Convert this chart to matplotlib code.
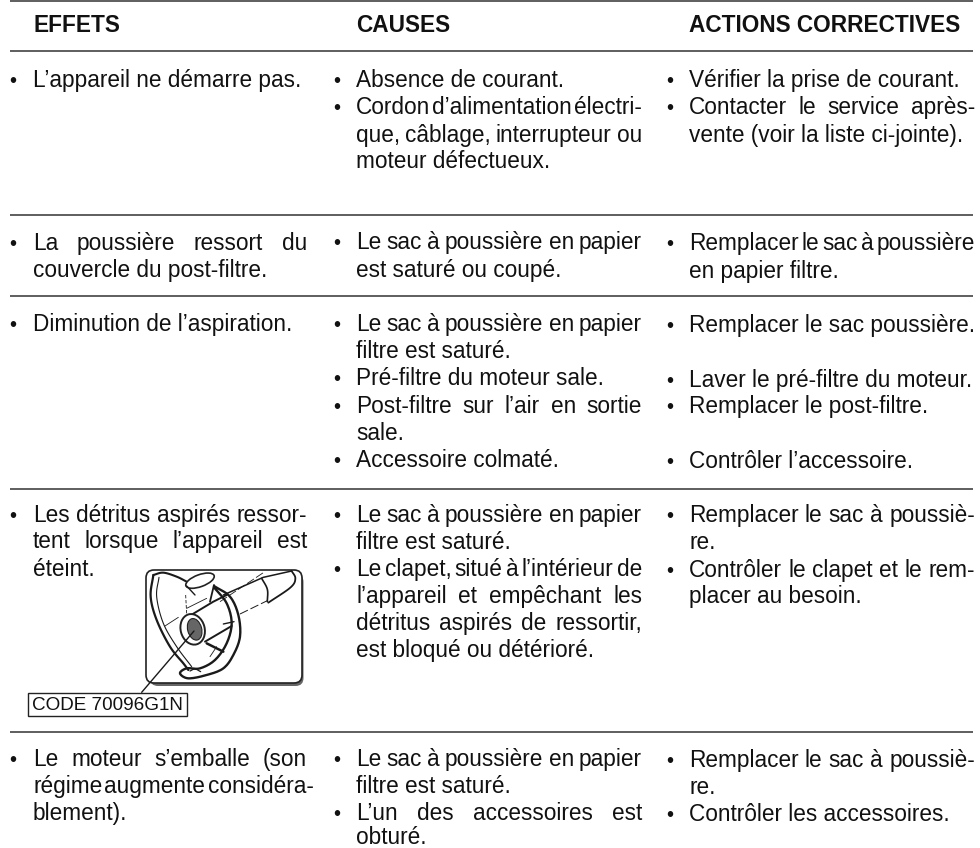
import matplotlib
matplotlib.use("Agg")
import matplotlib.pyplot as plt
import numpy as np
from matplotlib.patches import FancyBboxPatch, Ellipse, Rectangle, Polygon

plt.rcParams['font.family'] = ['Liberation Sans', 'DejaVu Sans']

FS = 16.3
INK = '#111111'

# column geometry: bullet x, text x, right edge
COLS = [(12.5, 33, 307), (337, 356, 642), (670, 689, 975)]
headers = ["EFFETS", "CAUSES", "ACTIONS CORRECTIVES"]
rules_y = [0.5, 51, 215, 296, 489, 732]

# (baseline, text, bullet, justified)
col_effets = [
    (87, "L’appareil ne démarre pas.", True, False),
    (250, "La poussière ressort du", True, True),
    (277, "couvercle du post-filtre.", False, False),
    (331, "Diminution de l’aspiration.", True, False),
    (522, "Les détritus aspirés ressor-", True, True),
    (548, "tent lorsque l’appareil est", False, True),
    (576, "éteint.", False, False),
    (766, "Le moteur s’emballe (son", True, True),
    (793, "régime augmente considéra-", False, True),
    (820, "blement).", False, False),
]
col_causes = [
    (87, "Absence de courant.", True, False),
    (114, "Cordon d’alimentation électri-", True, True),
    (142, "que, câblage, interrupteur ou", False, True),
    (168, "moteur défectueux.", False, False),
    (249, "Le sac à poussière en papier", True, True),
    (277, "est saturé ou coupé.", False, False),
    (331, "Le sac à poussière en papier", True, True),
    (358, "filtre est saturé.", False, False),
    (385, "Pré-filtre du moteur sale.", True, False),
    (413, "Post-filtre sur l’air en sortie", True, True),
    (440, "sale.", False, False),
    (467, "Accessoire colmaté.", True, False),
    (522, "Le sac à poussière en papier", True, True),
    (549, "filtre est saturé.", False, False),
    (576, "Le clapet, situé à l’intérieur de", True, True),
    (603, "l’appareil et empêchant les", False, True),
    (630, "détritus aspirés de ressortir,", False, True),
    (657, "est bloqué ou détérioré.", False, False),
    (766, "Le sac à poussière en papier", True, True),
    (793, "filtre est saturé.", False, False),
    (820, "L’un des accessoires est", True, True),
    (844, "obturé.", False, False),
]
col_actions = [
    (87, "Vérifier la prise de courant.", True, False),
    (114, "Contacter le service après-", True, True),
    (142, "vente (voir la liste ci-jointe).", False, False),
    (250, "Remplacer le sac à poussière", True, True),
    (278, "en papier filtre.", False, False),
    (332, "Remplacer le sac poussière.", True, False),
    (387, "Laver le pré-filtre du moteur.", True, False),
    (413, "Remplacer le post-filtre.", True, False),
    (468, "Contrôler l’accessoire.", True, False),
    (522, "Remplacer le sac à poussiè-", True, True),
    (549, "re.", False, False),
    (577, "Contrôler le clapet et le rem-", True, True),
    (603, "placer au besoin.", False, False),
    (767, "Remplacer le sac à poussiè-", True, True),
    (794, "re.", False, False),
    (821, "Contrôler les accessoires.", True, False),
]
code_label = "CODE 70096G1N"

fig = plt.figure(figsize=(9.8, 8.48), dpi=100, facecolor='white')
ax = fig.add_axes([0, 0, 1, 1])
ax.set_xlim(0, 980)
ax.set_ylim(848, 0)
ax.axis('off')

for y in rules_y:
    ax.plot([9.5, 973], [y, y], color='#333333', lw=1.1, solid_capstyle='butt')

for (bx, tx, rx), h in zip(COLS, headers):
    ax.text(tx, 32, h, fontsize=FS, fontweight='bold', color=INK, va='baseline', ha='left')

renderer = fig.canvas.get_renderer()

def width(s, fs):
    t = ax.text(0, 0, s, fontsize=fs)
    w = t.get_window_extent(renderer).width
    t.remove()
    return w

def put(line, col):
    y, s, bullet, just = line
    bx, tx, rx = col
    if bullet:
        ax.text(bx, y, "•", fontsize=FS * 0.9, color=INK, va='baseline', ha='center')
    if not just:
        ax.text(tx, y, s, fontsize=FS, color=INK, va='baseline', ha='left')
        return
    words = s.split(' ')
    ws = [width(w, FS) for w in words]
    gap = max((rx - tx - sum(ws)) / (len(words) - 1), 2.2)
    x = tx
    for w, wd in zip(words, ws):
        ax.text(x, y, w, fontsize=FS, color=INK, va='baseline', ha='left')
        x += wd + gap

for lines, col in zip([col_effets, col_causes, col_actions], COLS):
    for line in lines:
        put(line, col)

# label box
ax.add_patch(Rectangle((27.5, 693), 159.5, 23, fc='white', ec='#222222', lw=1.0, zorder=3))
ax.text(32, 710, code_label, fontsize=13.6, color=INK, va='baseline', ha='left', zorder=4)

# small illustration, drawn in crop coordinates
def Z(x, y):
    return 10 + x / 3, 500 + y / 3

def smooth(pts, n=10):
    p = np.array([Z(*q) for q in pts], float)
    p = np.vstack([2 * p[0] - p[1], p, 2 * p[-1] - p[-2]])
    out = []
    for i in range(1, len(p) - 2):
        for t in np.linspace(0, 1, n, endpoint=False):
            a, b, c, d = p[i - 1], p[i], p[i + 1], p[i + 2]
            out.append(0.5 * (2 * b + (c - a) * t + (2 * a - 5 * b + 4 * c - d) * t ** 2
                              + (3 * b - a - 3 * c + d) * t ** 3))
    out.append(p[-2])
    return np.array(out)

def curve(pts, lw=1.1, z=3, ls='-', fill=None):
    c = smooth(pts)
    if fill:
        ax.add_patch(Polygon(c, closed=True, fc=fill, ec='none', zorder=z - 0.05))
    ax.plot(c[:, 0], c[:, 1], color='#1a1a1a', lw=lw, zorder=z, ls=ls, solid_capstyle='round')

def seg(pts, lw=0.9, z=3, ls='-'):
    xs, ys = zip(*[Z(*p) for p in pts])
    ax.plot(xs, ys, color='#1a1a1a', lw=lw, zorder=z, ls=ls, solid_capstyle='round')

ax.add_patch(FancyBboxPatch((150, 574), 153.5, 112, boxstyle="round,pad=0,rounding_size=8",
                            fc='#666666', ec='none', zorder=2))
ax.add_patch(FancyBboxPatch((146, 570), 156, 113, boxstyle="round,pad=0,rounding_size=8",
                            fc='white', ec='#222222', lw=1.2, zorder=2.5))
# shell
curve([(430, 225), (422, 290), (440, 360), (480, 440), (520, 490), (535, 510)], lw=1.6)
curve([(430, 225), (460, 218), (500, 230), (530, 245)], lw=1.5)
curve([(447, 232), (440, 290), (460, 370), (500, 440), (545, 500)], lw=0.8)
curve([(612, 258), (660, 290), (685, 345), (690, 410), (670, 465), (640, 505), (590, 525),
       (535, 535), (510, 520), (530, 505), (570, 505), (615, 480), (650, 430), (665, 370),
       (650, 310), (612, 262)], lw=1.7, fill='white')
curve([(540, 513), (555, 507), (572, 515)], lw=0.9)
# rear tube
seg([(640, 285), (760, 232), (845, 213)], lw=1.1)
curve([(845, 213), (856, 235), (842, 262), (775, 308)], lw=1.3)
curve([(755, 235), (772, 268), (772, 305)], lw=1.2)
seg([(690, 342), (772, 302)], lw=0.7, ls=(0, (9, 3)))
seg([(630, 305), (760, 218)], lw=0.6, ls=(0, (10, 3)))
# dashes on the left
seg([(465, 378), (505, 352)], lw=0.6)
seg([(527, 285), (530, 342)], lw=0.6, ls=(0, (4, 2)))
seg([(530, 325), (590, 295)], lw=0.6)
seg([(590, 430), (640, 455)], lw=1.8)
seg([(600, 470), (620, 440)], lw=0.6)
# inner tube and valve
seg([(535, 350), (610, 305), (650, 285)], lw=1.4, z=3.1)
seg([(585, 425), (665, 378)], lw=1.4, z=3.1)
seg([(640, 372), (672, 365)], lw=1.0)
ax.add_patch(Ellipse(Z(548, 388), 24, 31, angle=-15, fc='white', ec='#222222', lw=1.4, zorder=3.2))
ax.add_patch(Ellipse(Z(554, 388), 14, 22, angle=-15, fc='#666666', ec='#222222', lw=0.8, zorder=3.3))
# clip on top
ax.add_patch(Ellipse(Z(570, 242), 30, 12, angle=-20, fc='white', ec='#222222', lw=1.2, zorder=3.4))
seg([(530, 258), (555, 285)], lw=1.0, z=3.5)
seg([(612, 255), (600, 305)], lw=1.3, z=3.5)
# leader
seg([(552, 393), (395, 577)], lw=1.0, z=3.6)

fig.savefig("out.png", dpi=100)
